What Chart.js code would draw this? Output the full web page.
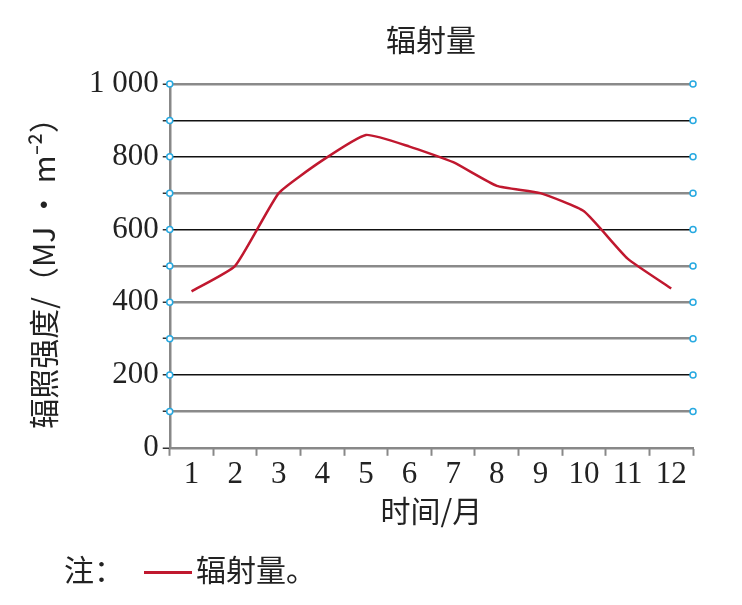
<!DOCTYPE html>
<html>
<head>
<meta charset="utf-8">
<script src="https://cdn.jsdelivr.net/npm/chart.js@4.4.0/dist/chart.umd.min.js"></script>
<style>
  body { margin: 0; background: #fff; }
  #wrap { position: relative; width: 742px; height: 605px; }
  #title { position: absolute; left: 331px; width: 200px; top: 16px; text-align: center; font: 30px "Noto Sans CJK SC"; color: #222; }
  #note { position: absolute; left: 64px; top: 546px; font: 30px "Noto Sans CJK SC"; color: #222; white-space: nowrap; }
  #note .ln { display: inline-block; width: 48px; height: 0; border-top: 3px solid #c0182f; vertical-align: middle; margin: 0 4px 0 20px; }
</style>
</head>
<body>
<div id="wrap">
  <canvas id="myChart" width="742" height="605"></canvas>
  <div id="title">辐射量</div>
  <div id="note">注：<span class="ln"></span>辐射量。</div>
</div>
<script>
// 辐射量 data
const months = ["1", "2", "3", "4", "5", "6", "7", "8", "9", "10", "11", "12"];
const radiation = [430, 500, 700, 790, 860, 828, 785, 720, 700, 650, 520, 438];
const yMin = 0;
const yMax = 1000;
const yStep = 100;

// which gridlines look grey (the rest are black)
const greyLines = [0, 100, 300, 400, 500, 700, 1000];

const serif = "'Liberation Serif', 'DejaVu Serif', serif";
const cjk = "'Noto Sans CJK SC', sans-serif";

// little cyan rings on both ends of each gridline
const ringPlugin = {
  id: 'rings',
  afterDatasetsDraw(chart) {
    const ctx = chart.ctx;
    const y = chart.scales.y;
    const area = chart.chartArea;
    ctx.save();
    ctx.strokeStyle = '#27a9e1';
    ctx.fillStyle = '#fff';
    ctx.lineWidth = 1.5;
    y.ticks.forEach(t => {
      if (t.value === 0) return;
      const py = y.getPixelForValue(t.value);
      [area.left, area.right].forEach(px => {
        ctx.beginPath();
        ctx.arc(px, py, 3, 0, Math.PI * 2);
        ctx.fill();
        ctx.stroke();
      });
    });
    ctx.restore();
  }
};

new Chart("myChart", {
  type: "line",
  data: {
    labels: months,
    datasets: [{
      label: "辐射量",
      data: radiation,
      borderColor: "#c0182f",
      borderWidth: 2.5,
      pointRadius: 0,
      tension: 0.15,
      fill: false
    }]
  },
  options: {
    responsive: false,
    animation: false,
    layout: { padding: { left: 22, right: 49, top: 84, bottom: 72 } },
    plugins: {
      legend: { display: false },
      tooltip: { enabled: false },
      title: { display: false }
    },
    scales: {
      x: {
        offset: true,
        grid: {
          offset: true,
          drawOnChartArea: false,
          tickLength: 8,
          tickColor: '#888',
          tickWidth: 2
        },
        border: { color: '#888', width: 2 },
        ticks: {
          color: '#222',
          font: { family: serif, size: 31 },
          padding: 0,
          maxRotation: 0,
          autoSkip: false
        },
        title: {
          display: true,
          text: "时间/月",
          color: '#222',
          font: { family: cjk, size: 30 },
          padding: { top: 0 }
        }
      },
      y: {
        min: yMin,
        max: yMax,
        grid: {
          color: c => greyLines.includes(c.tick.value) ? '#8a8a8a' : '#111',
          lineWidth: c => greyLines.includes(c.tick.value) ? 2.5 : 1.5,
          tickLength: 7,
          tickColor: '#333',
          tickWidth: 1.5
        },
        border: { color: '#888', width: 2.5 },
        ticks: {
          stepSize: yStep,
          autoSkip: false,
          color: '#222',
          font: { family: serif, size: 31 },
          padding: 4,
          callback: v => v % 200 !== 0 ? '' : (v === 1000 ? '1 000' : String(v))
        },
        title: {
          display: true,
          text: "辐照强度/（MJ · m⁻²）",
          color: '#222',
          font: { family: cjk, size: 30 },
          padding: { bottom: 23 }
        }
      }
    }
  },
  plugins: [ringPlugin]
});
</script>
</body>
</html>
